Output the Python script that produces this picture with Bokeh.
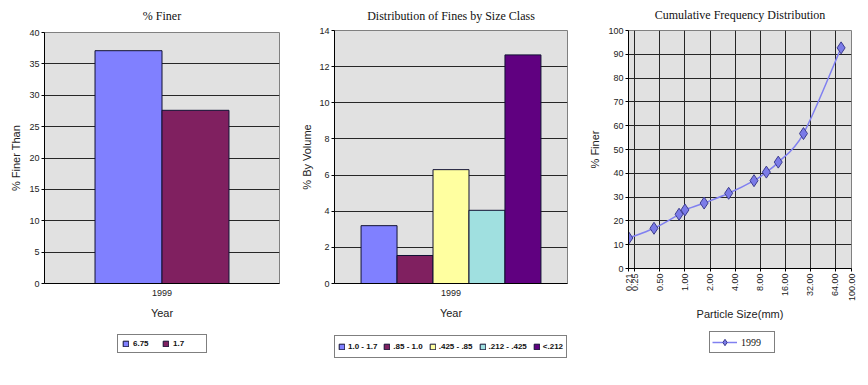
import math
from bokeh.plotting import figure
from bokeh.layouts import row, column
from bokeh.models import (FactorRange, Range1d, FixedTicker, Legend, LegendItem,
                          ColumnDataSource)
from bokeh.transform import dodge
from bokeh.embed import file_html
from bokeh.resources import INLINE

# ---------------- data ----------------
years = ["1999"]

finer_series = ["6.75", "1.7"]
finer_values = [37.1, 27.6]
finer_colors = ["#8080FF", "#802060"]
finer_ticks = [0, 5, 10, 15, 20, 25, 30, 35, 40]

fines_classes = ["1.0 - 1.7", ".85 - 1.0", ".425 - .85", ".212 - .425", "<.212"]
fines_values = [3.2, 1.55, 6.3, 4.05, 12.65]
fines_colors = ["#8080FF", "#802060", "#FFFFA0", "#A0E0E0", "#600080"]
fines_ticks = [0, 2, 4, 6, 8, 10, 12, 14]

particle_size = [0.212, 0.425, 0.85, 1.0, 1.7, 3.35, 6.75, 9.5, 13.2, 26.5, 75.0]
percent_finer = [12.8, 16.9, 22.8, 24.6, 27.5, 31.6, 36.9, 40.5, 44.7, 56.7, 92.7]
size_ticks = [0.21, 0.25, 0.5, 1, 2, 4, 8, 16, 32, 64, 100]
size_tick_labels = ["0.21", "0.25", "0.50", "1.00", "2.00", "4.00", "8.00",
                    "16.00", "32.00", "64.00", "100.00"]
cum_ticks = [0, 10, 20, 30, 40, 50, 60, 70, 80, 90, 100]

BG = "#E1E1E1"
GRID = "#262626"
SANS = "Liberation Sans"
SERIF = "Liberation Serif"
CHART_H = 328
LEG_H = 57
BAR_LINE = "#111133"


def style(p, title_standoff):
    p.background_fill_color = BG
    p.border_fill_color = "white"
    p.outline_line_color = "#808080"
    p.title.text_font = SERIF
    p.title.text_font_size = "12px"
    p.title.text_font_style = "normal"
    p.title.align = "center"
    p.title.vertical_align = "top"
    p.title.standoff = title_standoff
    p.title.text_color = "#111111"
    for ax in (p.xaxis[0], p.yaxis[0]):
        ax.axis_line_color = "black"
        ax.major_tick_line_color = "black"
        ax.major_tick_in = 0
        ax.major_tick_out = 3
        ax.minor_tick_line_color = None
        ax.major_label_text_font = SANS
        ax.major_label_text_font_size = "9px"
        ax.major_label_text_color = "#222222"
        ax.axis_label_text_font = SANS
        ax.axis_label_text_font_size = "11px"
        ax.axis_label_text_font_style = "normal"
        ax.axis_label_text_color = "#222222"
        ax.major_label_standoff = 2
    p.ygrid.grid_line_color = GRID
    p.ygrid.grid_line_width = 1


def legend_fig(width):
    lf = figure(width=width, height=LEG_H, x_range=Range1d(0, 1),
                y_range=Range1d(0, 1), x_axis_location=None,
                y_axis_location=None, output_backend="svg",
                toolbar_location=None, min_border=0)
    lf.grid.visible = False
    lf.outline_line_color = None
    lf.background_fill_color = "white"
    lf.border_fill_color = "white"
    return lf


def legend_style(lg, bold=True, font=SANS, size="8px"):
    lg.orientation = "horizontal"
    lg.border_line_color = "black"
    lg.border_line_width = 1
    lg.background_fill_color = "white"
    lg.background_fill_alpha = 1
    lg.label_text_font = font
    lg.label_text_font_style = "bold" if bold else "normal"
    lg.label_text_font_size = size
    lg.label_text_color = "#111111"
    lg.margin = 0


def bar_panel(title, ylabel, series, values, colors, ticks, ymax, group,
              width, left, right, ylab_standoff, title_standoff, leg_loc,
              leg_opts):
    p = figure(title=title, x_range=FactorRange(factors=years),
               y_range=Range1d(0, ymax), output_backend="svg",
               toolbar_location=None, width=width, height=CHART_H,
               min_border_left=left, min_border_right=right,
               min_border_top=30, min_border_bottom=45)
    style(p, title_standoff)
    n = len(series)
    bw = group / n
    for i, (v, c) in enumerate(zip(values, colors)):
        off = -group / 2 + (i + 0.5) * bw
        src = ColumnDataSource(dict(year=years, v=[v]))
        p.vbar(x=dodge("year", off, range=p.x_range), top="v", width=bw,
               source=src, fill_color=c, line_color=BAR_LINE, line_width=1)
    p.yaxis.ticker = FixedTicker(ticks=ticks)
    p.yaxis.axis_label = ylabel
    p.yaxis.axis_label_standoff = ylab_standoff
    p.xaxis.axis_label = "Year"
    p.xaxis.major_tick_out = 0
    p.xaxis.major_label_standoff = 6
    p.xaxis.axis_label_standoff = 8
    p.xgrid.grid_line_color = None

    # legend lives in a strip below the chart (hidden proxy glyphs)
    lf = legend_fig(width)
    items = []
    for name, v, c in zip(series, values, colors):
        r = lf.vbar(x=[0], top=[v], width=0.1, fill_color=c,
                    line_color=BAR_LINE, line_width=1, visible=False)
        items.append(LegendItem(label=name, renderers=[r]))
    lg = Legend(items=items, location=leg_loc)
    legend_style(lg)
    lg.glyph_width = 7
    lg.glyph_height = 7
    for k, val in leg_opts.items():
        setattr(lg, k, val)
    lf.add_layout(lg)
    return column(p, lf, spacing=0)


c1 = bar_panel("% Finer", "% Finer Than", finer_series, finer_values,
               finer_colors, finer_ticks, 40, 0.57, 290, 44, 11, 4, 16,
               (73, 32), dict(padding=4, label_standoff=4, spacing=0,
                              label_width=29, label_height=9))
c2 = bar_panel("Distribution of Fines by Size Class", "% By Volume",
               fines_classes, fines_values, fines_colors, fines_ticks, 14,
               0.772, 290, 44, 13, 3, 12,
               (0, 27), dict(padding=3, label_standoff=3, spacing=6,
                             label_height=15))

# ---------------- cumulative chart ----------------
p3 = figure(title="Cumulative Frequency Distribution", x_axis_type="log",
            x_range=Range1d(0.21, 100), y_range=Range1d(0, 100),
            output_backend="svg", toolbar_location=None,
            width=288, height=CHART_H, min_border_left=48,
            min_border_right=17, min_border_top=29, min_border_bottom=60)
style(p3, 14)
p3.xaxis.ticker = FixedTicker(ticks=size_ticks)
p3.xaxis.major_label_overrides = {t: l for t, l in zip(size_ticks, size_tick_labels)}
p3.xaxis.major_label_orientation = math.pi / 2
p3.xaxis.axis_label = "Particle Size(mm)"
p3.xaxis.axis_label_standoff = 4
p3.yaxis.ticker = FixedTicker(ticks=cum_ticks)
p3.yaxis.axis_label = "% Finer"
p3.yaxis.axis_label_standoff = 4
p3.xgrid.ticker = FixedTicker(ticks=size_ticks)
p3.xgrid.grid_line_color = GRID
p3.xgrid.grid_line_width = 1

# smoothed (Catmull-Rom style) curve through the measured points
lx = [math.log10(v) for v in particle_size]
ly = list(percent_finer)
n = len(lx)
x0, y0, x1, y1, cx0, cy0, cx1, cy1 = [], [], [], [], [], [], [], []
for i in range(n - 1):
    pa = max(i - 1, 0)
    pb = min(i + 2, n - 1)
    c0x = lx[i] + (lx[i + 1] - lx[pa]) / 6
    c0y = ly[i] + (ly[i + 1] - ly[pa]) / 6
    c1x = lx[i + 1] - (lx[pb] - lx[i]) / 6
    c1y = ly[i + 1] - (ly[pb] - ly[i]) / 6
    x0.append(10 ** lx[i]); y0.append(ly[i])
    x1.append(10 ** lx[i + 1]); y1.append(ly[i + 1])
    cx0.append(10 ** c0x); cy0.append(c0y)
    cx1.append(10 ** c1x); cy1.append(c1y)
LINE_C = "#8080F0"
MK_FILL = "#7B7BE8"
MK_LINE = "#3D3D8F"
p3.bezier(x0=x0, y0=y0, x1=x1, y1=y1, cx0=cx0, cy0=cy0, cx1=cx1,
          cy1=cy1, line_color=LINE_C, line_width=1.5)
p3.scatter(particle_size, percent_finer, marker="diamond", size=12,
           fill_color=MK_FILL, line_color=MK_LINE, line_width=1)

l3 = legend_fig(288)
ll = l3.line(x=particle_size, y=percent_finer, line_color=LINE_C,
             line_width=1.5, visible=False)
lm = l3.scatter(x=particle_size, y=percent_finer, marker="diamond", size=10,
                fill_color=MK_FILL, line_color=MK_LINE, line_width=1,
                visible=False)
lg3 = Legend(items=[LegendItem(label="1999", renderers=[ll, lm])],
             location=(81, 32))
legend_style(lg3, bold=False, font=SERIF, size="10px")
lg3.glyph_width = 25
lg3.glyph_height = 16
lg3.padding = 2
lg3.label_standoff = 4
lg3.label_width = 31
l3.add_layout(lg3)
c3 = column(p3, l3, spacing=0)

layout = row(c1, c2, c3, spacing=0)
open("out.html", "w").write(file_html(layout, INLINE))
